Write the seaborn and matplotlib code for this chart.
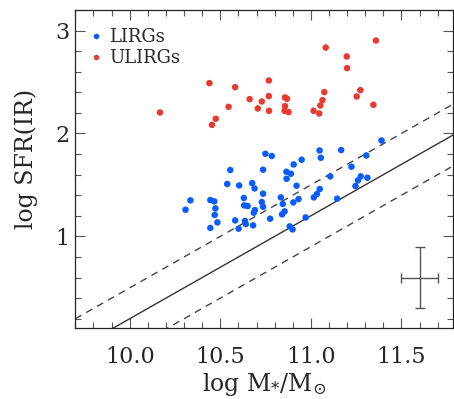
import numpy as np
import pandas as pd
import matplotlib
matplotlib.use("Agg")
import matplotlib.pyplot as plt
from matplotlib.ticker import MultipleLocator
import seaborn as sns

# LIRGs (blue)
lirg_mass = [11.390, 11.048, 11.167, 10.749, 10.784, 11.055, 11.306, 10.949, 10.905, 10.555,
             10.736, 10.865, 10.890, 11.224, 10.866, 11.107, 11.275, 11.312, 11.260, 11.246,
             10.538, 10.604, 10.676, 10.689, 10.921, 10.736, 11.049, 11.033, 11.016, 10.335,
             10.445, 10.467, 10.630, 10.834, 10.932, 11.145, 10.729, 10.308, 10.473, 10.632,
             10.651, 10.736, 10.845, 10.903, 10.691, 10.685, 10.855, 10.841, 10.469, 10.582,
             10.636, 10.641, 10.775, 10.971, 10.484, 10.681, 10.445, 10.601, 10.883, 10.899]
lirg_sfr = [1.932, 1.835, 1.839, 1.803, 1.781, 1.764, 1.786, 1.745, 1.699, 1.645,
            1.648, 1.628, 1.609, 1.677, 1.560, 1.583, 1.583, 1.570, 1.544, 1.489,
            1.509, 1.495, 1.518, 1.466, 1.492, 1.415, 1.460, 1.412, 1.379, 1.350,
            1.353, 1.340, 1.373, 1.379, 1.363, 1.366, 1.334, 1.259, 1.272, 1.301,
            1.295, 1.288, 1.315, 1.330, 1.256, 1.230, 1.243, 1.214, 1.208, 1.155,
            1.150, 1.120, 1.172, 1.184, 1.136, 1.107, 1.082, 1.075, 1.097, 1.068]

# ULIRGs (red)
ulirg_mass = [10.167, 10.440, 10.454, 10.475, 10.546, 10.582, 10.662, 10.707, 10.729, 10.768,
              10.768, 10.769, 10.857, 10.868, 10.857, 10.855, 10.877, 11.015, 11.046, 11.052,
              11.064, 11.074, 11.082, 11.198, 11.200, 11.253, 11.273, 11.345, 11.359]
ulirg_sfr = [2.204, 2.489, 2.084, 2.143, 2.259, 2.450, 2.334, 2.243, 2.311, 2.515,
             2.363, 2.220, 2.350, 2.337, 2.266, 2.220, 2.208, 2.220, 2.194, 2.272,
             2.324, 2.402, 2.835, 2.748, 2.635, 2.359, 2.421, 2.279, 2.903]

# main-sequence relation: log SFR = log M + offset, scatter +-0.3
ms_offset = -9.8
ms_scatter = 0.3

# typical error bar
err_x, err_y = 11.6, 0.6
err_dx, err_dy = 0.1, 0.3

xlim = (9.7, 11.785)
ylim = (0.11, 3.2)

df = pd.DataFrame({
    "mass": lirg_mass + ulirg_mass,
    "sfr": lirg_sfr + ulirg_sfr,
    "type": ["LIRGs"] * len(lirg_mass) + ["ULIRGs"] * len(ulirg_mass),
})

sns.set_style("ticks")
plt.rcParams["font.family"] = ["DejaVu Serif"]
plt.rcParams["mathtext.fontset"] = "dejavuserif"

fig = plt.figure(figsize=(4.54, 3.99), dpi=100)
ax = fig.add_axes([0.166, 0.178, 0.832, 0.797])

xs = np.array(xlim)
ax.plot(xs, xs + ms_offset, color="#333333", lw=1.0)
ax.plot(xs, xs + ms_offset + ms_scatter, color="#444444", lw=1.0, ls=(0, (5, 4)))
ax.plot(xs, xs + ms_offset - ms_scatter, color="#444444", lw=1.0, ls=(0, (5, 4)))

sns.scatterplot(data=df, x="mass", y="sfr", hue="type",
                palette={"LIRGs": "#0a5cff", "ULIRGs": "#e83a30"},
                s=22, linewidth=0, ax=ax, zorder=3)

ax.errorbar([err_x], [err_y], xerr=[err_dx], yerr=[err_dy], color="#555555",
            lw=1.0, capsize=3.5, capthick=1.0, fmt="none")

ax.set_xlim(*xlim)
ax.set_ylim(*ylim)
ax.xaxis.set_major_locator(MultipleLocator(0.5))
ax.xaxis.set_minor_locator(MultipleLocator(0.1))
ax.yaxis.set_major_locator(MultipleLocator(1))
ax.yaxis.set_minor_locator(MultipleLocator(0.2))
ax.xaxis.set_major_formatter(matplotlib.ticker.FormatStrFormatter("%.1f"))
ax.tick_params(which="both", direction="in", top=True, right=True,
               labelsize=16, color="#555555", width=0.8)
ax.tick_params(which="major", length=7)
ax.tick_params(axis="x", which="major", pad=13)
ax.tick_params(axis="y", which="major", pad=4)
ax.tick_params(which="minor", length=4)
for sp in ax.spines.values():
    sp.set_linewidth(0.9)
    sp.set_color("#222222")

ax.set_xlabel(r"log M$_{*}$/M$_{\odot}$", fontsize=17, labelpad=2)
ax.set_ylabel("log SFR(IR)", fontsize=17)
ax.yaxis.set_label_coords(-0.10, 0.53)

leg = ax.legend(loc="upper left", bbox_to_anchor=(0.0, 0.982), frameon=False,
                fontsize=13, title=None, handletextpad=0.25, handlelength=0.9,
                borderaxespad=0.3, labelspacing=0.15, markerscale=0.85)

fig.savefig("out.png", dpi=100)
